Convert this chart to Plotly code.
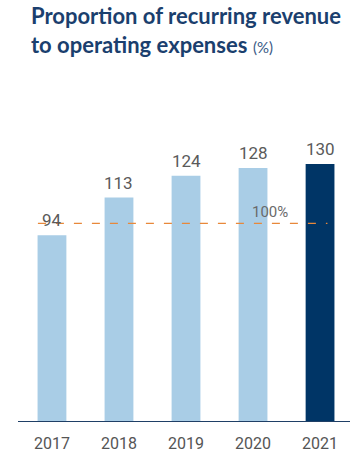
import plotly.graph_objects as go

# Recurring revenue as a share of operating expenses, by year
years = ["2017", "2018", "2019", "2020", "2021"]
ratios = [94, 113, 124, 128, 130]
bar_colors = ["#a9cde6", "#a9cde6", "#a9cde6", "#a9cde6", "#003566"]
breakeven = 100

title_text = (
    "<b>Proportion of recurring revenue</b><br>"
    "<b>to operating expenses</b> <span style='font-size:15px;color:#3a5a85'>(%)</span>"
)

label_font = "Roboto"

fig = go.Figure()

fig.add_trace(go.Bar(
    x=list(range(len(years))),
    y=ratios,
    marker=dict(color=bar_colors, line=dict(width=0)),
    width=0.43,
    hoverinfo="skip",
))

# Value labels above each bar
for i, v in enumerate(ratios):
    fig.add_annotation(
        x=i, y=v, text=str(v), showarrow=False,
        yanchor="bottom", yshift=3,
        font=dict(family=label_font, size=17, color="#5a5a5a"),
    )

# 100% reference line
fig.add_shape(
    type="line", xref="x", yref="y",
    x0=-0.21, x1=4.11, y0=breakeven, y1=breakeven,
    line=dict(color="#e8883a", width=1.2, dash="8px,10px"),
    layer="above",
)
fig.add_annotation(
    x=3, y=breakeven, text=f"{breakeven}%", showarrow=False,
    xshift=17, yanchor="bottom", yshift=0,
    font=dict(family=label_font, size=15, color="#6a6a6a"),
)

# Title
fig.add_annotation(
    xref="paper", yref="paper", x=0.0, y=1.0,
    xanchor="left", yanchor="top", yshift=0, xshift=11,
    align="left", showarrow=False,
    text=title_text,
    font=dict(family="Lato", size=22, color="#1b3f6e"),
)

fig.update_layout(
    width=350, height=458,
    margin=dict(l=18, r=0, t=0, b=37),
    paper_bgcolor="white", plot_bgcolor="white",
    showlegend=False,
    xaxis=dict(
        range=[-0.507, 4.447],
        tickmode="array",
        tickvals=list(range(len(years))),
        ticktext=years,
        showgrid=False, zeroline=False,
        showline=True, linecolor="#1f3f66", linewidth=1,
        ticks="", ticklabelstandoff=8,
        tickfont=dict(family=label_font, size=16, color="#555555"),
    ),
    yaxis=dict(
        domain=[0, 0.83],
        range=[0, 130 * (0.83 * 421) / 257],
        visible=False,
    ),
)

fig.write_html("out.html")
